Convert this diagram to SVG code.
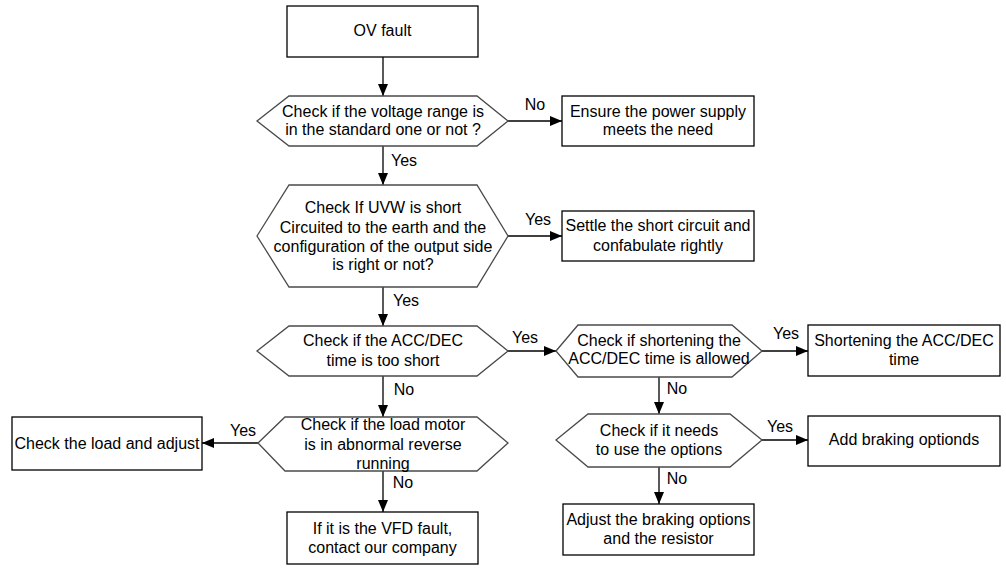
<svg xmlns="http://www.w3.org/2000/svg" width="1006" height="574" viewBox="0 0 1006 574">
<style>
  .box { fill: #ffffff; stroke: #000000; stroke-width: 1.3; }
  .hex { fill: #ffffff; stroke: #4a4a4a; stroke-width: 1.3; }
  .t { font-family: "Liberation Sans", Arial, sans-serif; font-size: 16px; fill: #000000; text-anchor: middle; }
  .lbl { font-family: "Liberation Sans", Arial, sans-serif; font-size: 16px; fill: #000000; text-anchor: middle; }
  .conn { stroke: #000000; stroke-width: 1.3; fill: none; marker-end: url(#arrow); }
</style>
<defs>
  <marker id="arrow" markerUnits="userSpaceOnUse" markerWidth="13" markerHeight="11" refX="12" refY="5" orient="auto">
    <path d="M0,0 L12,5 L0,10 Z" fill="#000000"/>
  </marker>
</defs>
<rect width="1006" height="574" fill="#ffffff"/>

<g id="connectors">
  <line class="conn" x1="383" y1="57" x2="383" y2="96"/>
  <line class="conn" x1="508" y1="121" x2="562" y2="121"/>
  <line class="conn" x1="383" y1="146" x2="383" y2="185"/>
  <line class="conn" x1="508" y1="236" x2="562" y2="236"/>
  <line class="conn" x1="383" y1="287" x2="383" y2="326"/>
  <line class="conn" x1="508" y1="351" x2="556" y2="351"/>
  <line class="conn" x1="762" y1="351" x2="808" y2="351"/>
  <line class="conn" x1="659" y1="377" x2="659" y2="414"/>
  <line class="conn" x1="762" y1="440" x2="808" y2="440"/>
  <line class="conn" x1="659" y1="467" x2="659" y2="504"/>
  <line class="conn" x1="383" y1="376" x2="383" y2="417"/>
  <line class="conn" x1="258" y1="443" x2="202" y2="443"/>
  <line class="conn" x1="383" y1="471" x2="383" y2="512"/>
  <text class="lbl" x="535" y="110">No</text>
  <text class="lbl" x="404" y="166">Yes</text>
  <text class="lbl" x="538" y="225">Yes</text>
  <text class="lbl" x="406" y="306">Yes</text>
  <text class="lbl" x="525" y="343">Yes</text>
  <text class="lbl" x="404" y="395">No</text>
  <text class="lbl" x="786" y="339">Yes</text>
  <text class="lbl" x="677" y="394">No</text>
  <text class="lbl" x="780" y="432">Yes</text>
  <text class="lbl" x="677" y="484">No</text>
  <text class="lbl" x="243" y="436">Yes</text>
  <text class="lbl" x="403" y="488">No</text>
</g>

<g id="ov-fault">
  <rect class="box" x="287" y="6" width="191" height="51"/>
  <text class="t" x="382.5" y="36">OV fault</text>
</g>

<g id="check-voltage">
  <polygon class="hex" points="257,121 289,96 477,96 508,121 477,146 289,146"/>
  <text class="t" x="383" y="117">Check if the voltage range is</text>
  <text class="t" x="383" y="135">in the standard one or not ?</text>
</g>

<g id="ensure-power">
  <rect class="box" x="562" y="96" width="192" height="50"/>
  <text class="t" x="658" y="117">Ensure the power supply</text>
  <text class="t" x="658" y="135">meets the need</text>
</g>

<g id="check-uvw">
  <polygon class="hex" points="257,236 289,185 477,185 508,236 477,287 289,287"/>
  <text class="t" x="383" y="213">Check If UVW is short</text>
  <text class="t" x="383" y="233">Circuited to the earth and the</text>
  <text class="t" x="383" y="252">configuration of the output side</text>
  <text class="t" x="383" y="270">is right or not?</text>
</g>

<g id="settle-short">
  <rect class="box" x="562" y="211" width="192" height="50"/>
  <text class="t" x="658" y="231">Settle the short circuit and</text>
  <text class="t" x="658" y="251">confabulate rightly</text>
</g>

<g id="check-accdec">
  <polygon class="hex" points="257,351 289,326 477,326 508,351 477,376 289,376"/>
  <text class="t" x="383" y="346">Check if the ACC/DEC</text>
  <text class="t" x="383" y="366">time is too short</text>
</g>

<g id="check-shortening">
  <polygon class="hex" points="556,351 578,325 732,325 762,351 732,377 578,377"/>
  <text class="t" x="659" y="346">Check if shortening the</text>
  <text class="t" x="659" y="364">ACC/DEC time is allowed</text>
</g>

<g id="shortening-accdec">
  <rect class="box" x="808" y="325" width="192" height="51"/>
  <text class="t" x="904" y="346">Shortening the ACC/DEC</text>
  <text class="t" x="904" y="365">time</text>
</g>

<g id="check-options">
  <polygon class="hex" points="556,440 588,414 730,414 762,440 730,467 588,467"/>
  <text class="t" x="659" y="436">Check if it needs</text>
  <text class="t" x="659" y="455">to use the options</text>
</g>

<g id="add-braking">
  <rect class="box" x="808" y="416" width="192" height="50"/>
  <text class="t" x="904" y="445">Add braking optionds</text>
</g>

<g id="adjust-braking">
  <rect class="box" x="563" y="504" width="191" height="51"/>
  <text class="t" x="658.5" y="525">Adjust the braking options</text>
  <text class="t" x="658.5" y="544">and the resistor</text>
</g>

<g id="check-load-motor">
  <polygon class="hex" points="258,443 285,417 477,417 508,443 477,471 285,471"/>
  <text class="t" x="383" y="430">Check if the load motor</text>
  <text class="t" x="383" y="450">is in abnormal reverse</text>
  <text class="t" x="383" y="469">running</text>
</g>

<g id="check-load-adjust">
  <rect class="box" x="12" y="417" width="190" height="53"/>
  <text class="t" x="107" y="449">Check the load and adjust</text>
</g>

<g id="vfd-fault">
  <rect class="box" x="287" y="512" width="191" height="52"/>
  <text class="t" x="382.5" y="534">If it is the VFD fault,</text>
  <text class="t" x="382.5" y="553">contact our company</text>
</g>
</svg>
